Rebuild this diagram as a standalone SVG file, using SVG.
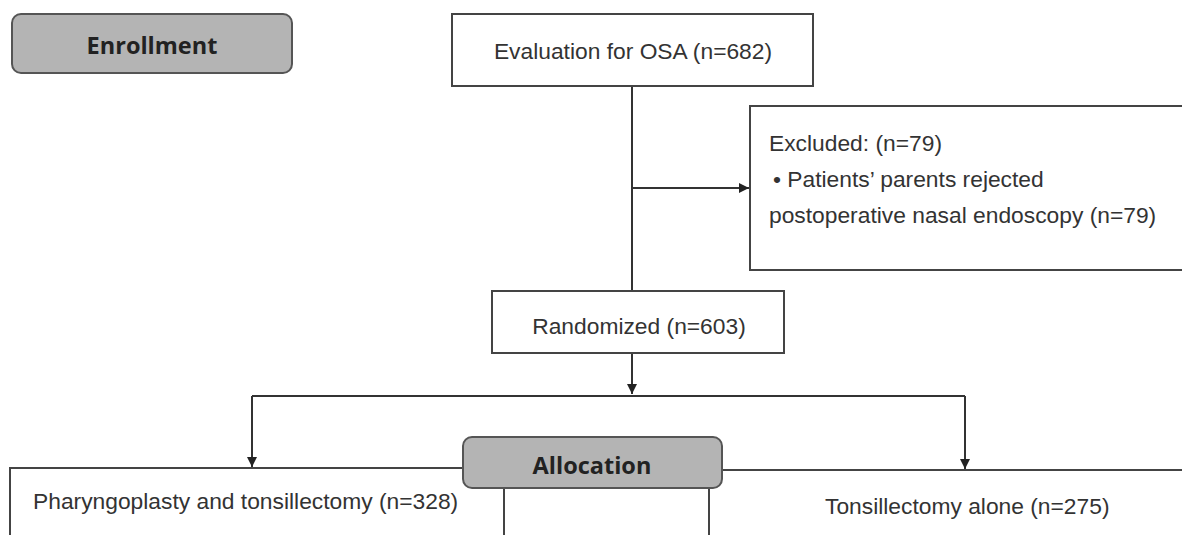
<svg xmlns="http://www.w3.org/2000/svg" width="1182" height="535" viewBox="0 0 1182 535">
<defs>
<marker id="arr" viewBox="0 0 10 10" refX="10" refY="5" markerWidth="10" markerHeight="10" markerUnits="userSpaceOnUse" orient="auto">
<path d="M0,0 L10,5 L0,10 Z" fill="#222"/>
</marker>
<style>
.box{fill:#fff;stroke:#444;stroke-width:2}
.gbox{fill:#b4b4b4;stroke:#555;stroke-width:2}
.t{font-family:"Liberation Sans",Arial,sans-serif;font-size:22.8px;fill:#333}
.b{font-family:"Open Sans","Liberation Sans",sans-serif;font-size:23.5px;font-weight:bold;fill:#222}
.c{fill:none;stroke:#333;stroke-width:2}
</style>
</defs>
<rect width="1182" height="535" fill="#fff"/>
<g id="connectors">
<line class="c" x1="632" y1="86" x2="632" y2="291"/>
<line class="c" x1="632" y1="188" x2="749" y2="188" marker-end="url(#arr)"/>
<line class="c" x1="632" y1="353" x2="632" y2="394" marker-end="url(#arr)"/>
<line class="c" x1="252" y1="396" x2="965" y2="396"/>
<line class="c" x1="252" y1="396" x2="252" y2="467" marker-end="url(#arr)"/>
<line class="c" x1="965" y1="396" x2="965" y2="469" marker-end="url(#arr)"/>
</g>
<g id="enrollment">
<rect class="gbox" x="12" y="14" width="280" height="59" rx="9"/>
<text class="b" x="152" y="54" text-anchor="middle">Enrollment</text>
</g>
<g id="evaluation">
<rect class="box" x="452" y="14" width="361" height="72"/>
<text class="t" x="633" y="59" text-anchor="middle">Evaluation for OSA (n=682)</text>
</g>
<g id="excluded">
<rect class="box" x="750" y="106" width="450" height="164"/>
<text class="t" x="769" y="151">Excluded: (n=79)</text>
<text class="t" x="773" y="187">• Patients’ parents rejected</text>
<text class="t" x="769" y="223">postoperative nasal endoscopy (n=79)</text>
</g>
<g id="randomized">
<rect class="box" x="492" y="291" width="292" height="62"/>
<text class="t" x="639" y="334" text-anchor="middle">Randomized (n=603)</text>
</g>
<g id="pharyngoplasty">
<rect class="box" x="10" y="468" width="494" height="80"/>
<text class="t" x="33" y="509">Pharyngoplasty and tonsillectomy (n=328)</text>
</g>
<g id="tonsillectomy">
<rect class="box" x="709" y="470" width="500" height="80"/>
<text class="t" x="825" y="514">Tonsillectomy alone (n=275)</text>
</g>
<g id="allocation">
<rect class="gbox" x="463" y="437" width="259" height="51" rx="9"/>
<text class="b" x="592" y="474" text-anchor="middle">Allocation</text>
</g>
</svg>
